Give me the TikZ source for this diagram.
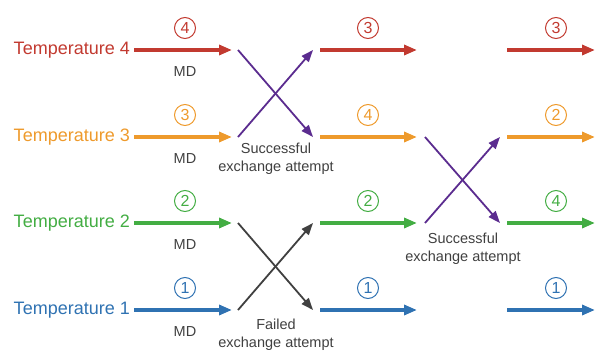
\documentclass[tikz,border=0pt]{standalone}
\usepackage{fontspec}
\setmainfont{Liberation Sans}
\usetikzlibrary{arrows.meta}
\definecolor{tred}{HTML}{C23A30}
\definecolor{torange}{HTML}{EE9A2C}
\definecolor{tgreen}{HTML}{43AD43}
\definecolor{tblue}{HTML}{2F72B2}
\definecolor{xpurple}{HTML}{5B2C8F}
\definecolor{xgrey}{HTML}{404040}

\begin{document}
\begin{tikzpicture}[x=1pt,y=-1pt,
    flow/.style={line width=3.2pt, -{Triangle[length=13pt,width=10pt]}},
    swap/.style={line width=1.8pt, -{Triangle[length=12pt,width=9pt]}},
    num/.style={circle, draw, line width=1pt, inner sep=0pt, minimum size=21pt,
        font=\fontsize{16}{16}\selectfont},
    tlabel/.style={anchor=east, inner sep=4pt, font=\fontsize{18}{20}\selectfont},
    note/.style={align=center, text=xgrey, font=\fontsize{14.5}{18}\selectfont}]
    \useasboundingbox (0,0) rectangle (595,351);

    % Etichette delle temperature
    \node[tlabel, text=tred] (t4) at (134,50) {Temperature 4};
    \node[tlabel, text=torange] (t3) at (134,137) {Temperature 3};
    \node[tlabel, text=tgreen] (t2) at (134,223) {Temperature 2};
    \node[tlabel, text=tblue] (t1) at (134,310) {Temperature 1};

    % Punti delle frecce
    \coordinate (r4a) at (232,50);  \coordinate (r4b) at (320,50);  \coordinate (r4c) at (417,50);
    \coordinate (r4d) at (507,50);  \coordinate (r4e) at (595,50);
    \coordinate (r3a) at (232,137); \coordinate (r3b) at (320,137); \coordinate (r3c) at (417,137);
    \coordinate (r3d) at (507,137); \coordinate (r3e) at (595,137);
    \coordinate (r2a) at (232,223); \coordinate (r2b) at (320,223); \coordinate (r2c) at (417,223);
    \coordinate (r2d) at (507,223); \coordinate (r2e) at (595,223);
    \coordinate (r1a) at (232,310); \coordinate (r1b) at (320,310); \coordinate (r1c) at (417,310);
    \coordinate (r1d) at (507,310); \coordinate (r1e) at (595,310);

    % Frecce MD
    \draw[flow, tred] (t4.east) -- (r4a);
    \draw[flow, torange] (t3.east) -- (r3a);
    \draw[flow, tgreen] (t2.east) -- (r2a);
    \draw[flow, tblue] (t1.east) -- (r1a);

    \draw[flow, tred] (r4b) -- (r4c);
    \draw[flow, torange] (r3b) -- (r3c);
    \draw[flow, tgreen] (r2b) -- (r2c);
    \draw[flow, tblue] (r1b) -- (r1c);

    \draw[flow, tred] (r4d) -- (r4e);
    \draw[flow, torange] (r3d) -- (r3e);
    \draw[flow, tgreen] (r2d) -- (r2e);
    \draw[flow, tblue] (r1d) -- (r1e);

    % Numeri cerchiati
    \node[num, draw=tred, text=tred] (n4a) at (185,28) {4};
    \node[num, draw=torange, text=torange] (n3a) at (185,115) {3};
    \node[num, draw=tgreen, text=tgreen] (n2a) at (185,201) {2};
    \node[num, draw=tblue, text=tblue] (n1a) at (185,288) {1};

    \node[num, draw=tred, text=tred] (n4b) at (368,28) {3};
    \node[num, draw=torange, text=torange] (n3b) at (368,115) {4};
    \node[num, draw=tgreen, text=tgreen] (n2b) at (368,201) {2};
    \node[num, draw=tblue, text=tblue] (n1b) at (368,288) {1};

    \node[num, draw=tred, text=tred] (n4c) at (556,28) {3};
    \node[num, draw=torange, text=torange] (n3c) at (556,115) {2};
    \node[num, draw=tgreen, text=tgreen] (n2c) at (556,201) {4};
    \node[num, draw=tblue, text=tblue] (n1c) at (556,288) {1};

    % Scritte MD
    \node[note] (md4) at (185,72) {MD};
    \node[note] (md3) at (185,159) {MD};
    \node[note] (md2) at (185,245) {MD};
    \node[note] (md1) at (185,332) {MD};

    % Scambi
    \coordinate (x1a) at (238,50);  \coordinate (x1b) at (313,137);
    \coordinate (x1c) at (238,137); \coordinate (x1d) at (313,50);
    \draw[swap, xpurple] (x1a) -- (x1b);
    \draw[swap, xpurple] (x1c) -- (x1d);

    \coordinate (x2a) at (238,223); \coordinate (x2b) at (313,310);
    \coordinate (x2c) at (238,310); \coordinate (x2d) at (313,223);
    \draw[swap, xgrey] (x2a) -- (x2b);
    \draw[swap, xgrey] (x2c) -- (x2d);

    \coordinate (x3a) at (425,137); \coordinate (x3b) at (500,223);
    \coordinate (x3c) at (425,223); \coordinate (x3d) at (500,137);
    \draw[swap, xpurple] (x3a) -- (x3b);
    \draw[swap, xpurple] (x3c) -- (x3d);

    % Annotazioni
    \node[note] (ok1) at (276,159) {Successful\\exchange attempt};
    \node[note] (ko1) at (276,335) {Failed\\exchange attempt};
    \node[note] (ok2) at (463,249) {Successful\\exchange attempt};
\end{tikzpicture}
\end{document}
